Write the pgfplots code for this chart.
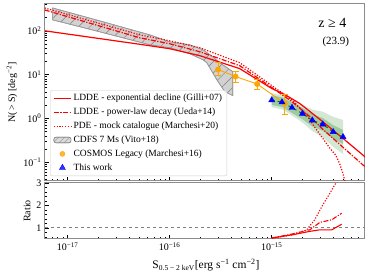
\documentclass[border=0pt]{standalone}
\usepackage{fontspec}
\setmainfont{Liberation Serif}
\usepackage{pgfplots}
\pgfplotsset{compat=1.18}
\usetikzlibrary{patterns.meta}
\definecolor{cosmos}{RGB}{255,165,0}
\definecolor{dgreen}{RGB}{0,110,0}
\begin{document}
\begin{tikzpicture}
\path[use as bounding box] (-45pt,-94pt) rectangle (329pt,181pt);
\pgfplotsset{
  every axis/.append style={
    scale only axis, width=320pt,
    xmode=log, xmin=6e-18, xmax=8.2e-15,
    axis line style={draw=black!45, line width=1pt},
    tick pos=left, tick align=inside,
    major tick length=4pt, minor tick length=2pt,
    every tick/.style={black, line width=0.5pt},
    tick label style={font=\fontsize{10}{12}\selectfont},
    label style={font=\fontsize{10.5}{12}\selectfont},
    xtick={1e-17,1e-16,1e-15},
    minor xtick={7e-18,8e-18,9e-18,2e-17,3e-17,4e-17,5e-17,6e-17,7e-17,8e-17,9e-17,2e-16,3e-16,4e-16,5e-16,6e-16,7e-16,8e-16,9e-16,2e-15,3e-15,4e-15,5e-15,6e-15,7e-15,8e-15},
  }
}
\begin{axis}[
  at={(0pt,0pt)}, anchor=south west, height=177pt,
  ymode=log, ymin=0.037, ymax=410,
  xticklabels={},
  ytick={0.1,1,10,100},
  yticklabels={10\textsuperscript{−1},10\textsuperscript{0},10\textsuperscript{1},10\textsuperscript{2}},
  minor ytick={0.04,0.05,0.06,0.07,0.08,0.09,0.2,0.3,0.4,0.5,0.6,0.7,0.8,0.9,2,3,4,5,6,7,8,9,20,30,40,50,60,70,80,90,200,300,400},
  ylabel={N(\,>\,S) [deg\textsuperscript{−2}]},
  every axis y label/.style={at={(axis description cs:-0.103,0.5)}, rotate=90, anchor=center},
  legend style={at={(0.016,0.028)}, anchor=south west, draw=black!20, rounded corners=2pt,
    fill=white, fill opacity=0.8, text opacity=1, font=\fontsize{9.5}{11}\selectfont,
    row sep=1.8pt, inner xsep=3pt, inner ysep=2pt},
  legend cell align=left,
]
\addlegendimage{red, line width=1.2pt}
\addlegendentry{LDDE - exponential decline (Gilli+07)}
\addlegendimage{red, line width=1.2pt, dash pattern=on 5pt off 1.5pt on 1.2pt off 1.5pt}
\addlegendentry{LDDE - power-law decay (Ueda+14)}
\addlegendimage{red, line width=1.2pt, dash pattern=on 1.2pt off 1.6pt}
\addlegendentry{PDE - mock catalogue (Marchesi+20)}
\addlegendimage{area legend, draw=gray, fill=gray!35, postaction={pattern={Lines[angle=45,distance=4pt,line width=0.4pt]}, pattern color=gray}}
\addlegendentry{CDFS 7 Ms (Vito+18)}
\addlegendimage{only marks, mark=*, mark size=2.5pt, cosmos}
\addlegendentry{COSMOS Legacy (Marchesi+16)}
\addlegendimage{only marks, mark=triangle*, mark size=3.5pt, blue}
\addlegendentry{This work}

% CDFS band
\addplot[forget plot, draw=gray!80, line width=0.6pt, fill=gray!35,
  postaction={pattern={Lines[angle=45,distance=8pt,line width=0.5pt]}, pattern color=gray}]
  coordinates {(7.13e-18,333) (2.06e-17,169) (6.37e-17,81) (1.0e-16,56) (1.57e-16,48) (2.11e-16,37) (2.64e-16,25.6) (3.09e-16,18.7) (4.15e-16,11.7)
  (4.15e-16,3.3) (3.46e-16,4.1) (2.89e-16,7.7) (2.31e-16,18.7) (2.11e-16,21.9) (1.57e-16,30) (1.0e-16,41) (6.37e-17,48) (2.06e-17,95) (7.13e-18,178)} -- cycle;

% green bands
\addplot[forget plot, draw=none, fill=green!45!black, fill opacity=0.17]
  coordinates {(1.0e-15,3.77) (1.26e-15,3.39) (1.58e-15,2.63) (2.0e-15,2.05) (2.5e-15,1.58) (3.16e-15,1.42) (4.0e-15,1.08) (5.0e-15,0.92)
  (5.0e-15,0.153) (4.0e-15,0.223) (3.16e-15,0.374) (2.5e-15,0.51) (2.0e-15,0.80) (1.58e-15,1.17) (1.26e-15,1.61) (1.0e-15,1.79)} -- cycle;
\addplot[forget plot, draw=none, fill=green!45!black, fill opacity=0.25]
  coordinates {(1.0e-15,3.35) (1.26e-15,3.02) (1.58e-15,2.31) (2.0e-15,1.73) (2.5e-15,1.24) (3.16e-15,1.02) (4.0e-15,0.70) (5.0e-15,0.545)
  (5.0e-15,0.26) (4.0e-15,0.34) (3.16e-15,0.52) (2.5e-15,0.65) (2.0e-15,0.95) (1.58e-15,1.33) (1.26e-15,1.81) (1.0e-15,2.02)} -- cycle;

% models
\addplot[forget plot, red, line width=1.2pt] coordinates {
  (5.96e-18,100) (5.08e-17,49.3) (1.0e-16,39.0) (1.97e-16,27.1) (4.85e-16,13.7) (1.0e-15,4.81) (1.34e-15,3.51) (1.88e-15,2.19) (2.96e-15,0.949) (4.97e-15,0.351) (8.73e-15,0.117)};
\addplot[forget plot, red, line width=1.2pt, dash pattern=on 5pt off 1.5pt on 1.2pt off 1.5pt] coordinates {
  (5.96e-18,300) (5.08e-17,69.3) (1.0e-16,50.7) (1.97e-16,33.3) (4.85e-16,16.0) (1.0e-15,5.07) (1.57e-15,2.43) (2.47e-15,1.0) (3.09e-15,0.593) (3.88e-15,0.370) (4.85e-15,0.231) (8.73e-15,0.069)};
\addplot[forget plot, red, line width=1.2pt, dash pattern=on 1.2pt off 1.6pt] coordinates {
  (5.96e-18,333) (5.08e-17,81) (1.0e-16,59.3) (1.97e-16,41.1) (4.85e-16,18.7) (1.0e-15,5.62) (1.61e-15,2.54) (2.20e-15,1.19) (2.64e-15,0.624) (3.16e-15,0.351) (3.71e-15,0.208) (4.24e-15,0.144) (4.65e-15,0.090) (4.97e-15,0.056) (5.31e-15,0.0316)};

% this work fit line
\addplot[forget plot, dgreen, line width=0.9pt, dashed] coordinates {
  (1.0e-15,2.6) (1.26e-15,2.34) (1.58e-15,1.75) (2.0e-15,1.28) (2.5e-15,0.90) (3.16e-15,0.73) (4.0e-15,0.49) (5.0e-15,0.376)};

% COSMOS
\addplot[forget plot, cosmos, line width=0.9pt, mark=*, mark size=2.5pt,
  error bars/.cd, y dir=both, y explicit,
  error bar style={cosmos, line width=0.9pt},
  error mark options={rotate=90, mark size=3pt, cosmos, line width=0.9pt}]
  coordinates {
  (2.98e-16,13.0) +- (0,6.05) -= (0,3.52)
  (4.42e-16,9.0) +- (0,2.9) -= (0,2.32)
  (7.2e-16,6.1) +- (0,1.59) -= (0,1.54)
  (1.34e-15,2.19) +- (0,1.32) -= (0,0.96)};

% This work
\addplot[forget plot, only marks, blue, mark=triangle*, mark size=3.5pt] coordinates {
  (1.0e-15,2.6) (1.26e-15,2.34) (1.58e-15,1.75) (2.0e-15,1.28) (2.5e-15,0.90) (3.16e-15,0.73) (4.0e-15,0.49) (5.0e-15,0.376)};

\node[font=\fontsize{14}{16}\selectfont] at (rel axis cs:0.898,0.893) {z ≥ 4};
\node[font=\fontsize{11}{13}\selectfont] at (rel axis cs:0.909,0.785) {(23.9)};
\end{axis}

\begin{axis}[
  at={(0pt,-2pt)}, anchor=north west, height=56pt,
  ymin=0.5, ymax=3,
  ytick={1,2,3}, yticklabels={1,2,3},
  minor ytick={0.6,0.8,1.2,1.4,1.6,1.8,2.2,2.4,2.6,2.8},
  xticklabels={10\textsuperscript{−17},10\textsuperscript{−16},10\textsuperscript{−15}},
  ylabel={Ratio},
  every axis y label/.style={at={(axis description cs:-0.056,0.5)}, rotate=90, anchor=center},
  xlabel={\fontsize{11.5}{13}\selectfont S\textsubscript{\fontsize{7.5}{9}\selectfont 0.5 − 2 keV}[erg s\textsuperscript{−1} cm\textsuperscript{−2}]},
  every axis x label/.style={at={(axis description cs:0.503,-0.464)}, anchor=center},
]
\addplot[gray, dashed, line width=0.7pt] coordinates {(6e-18,1) (8.2e-15,1)};
\addplot[red, line width=1.1pt] coordinates {(1e-15,0.54) (1.61e-15,0.69) (2.36e-15,0.84) (2.96e-15,0.91) (3.88e-15,0.91) (4.85e-15,1.16)};
\addplot[red, line width=1.1pt, dash pattern=on 5pt off 1.5pt on 1.2pt off 1.5pt] coordinates {(1e-15,0.54) (1.61e-15,0.73) (2.36e-15,0.91) (2.96e-15,1.24) (3.88e-15,1.36) (4.85e-15,1.65)};
\addplot[red, line width=1.1pt, dash pattern=on 1.2pt off 1.6pt] coordinates {(1e-15,0.54) (1.61e-15,0.69) (2.20e-15,0.91) (2.64e-15,1.36) (3.16e-15,2.02) (3.71e-15,2.54) (4.24e-15,2.99) (4.85e-15,5.4)};
\end{axis}
\end{tikzpicture}
\end{document}
